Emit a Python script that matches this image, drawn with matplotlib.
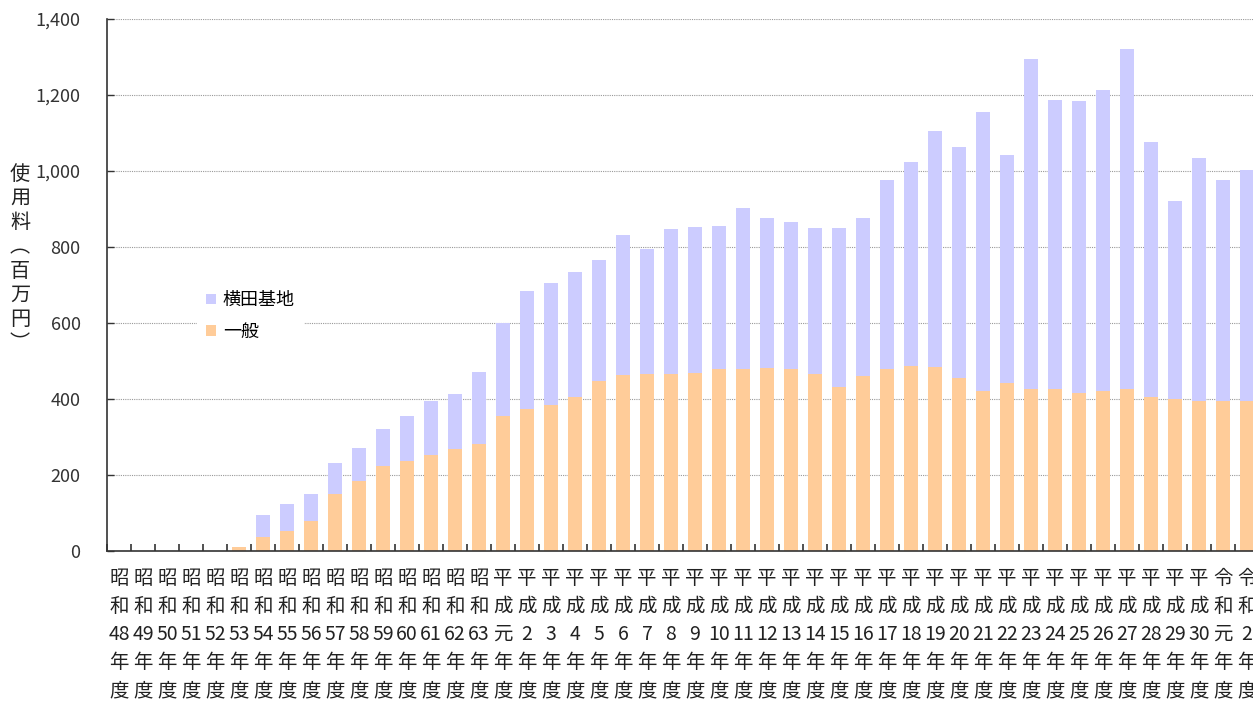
import matplotlib
matplotlib.use("Agg")
import matplotlib.pyplot as plt
import numpy as np

plt.rcParams["font.family"] = ["Noto Sans CJK JP", "DejaVu Sans"]

eras = ["昭和"] * 16 + ["平成"] * 30 + ["令和"] * 2
years = (
    [str(y) for y in range(48, 64)]
    + ["元"] + [str(y) for y in range(2, 31)]
    + ["元", "2"]
)

general = [0, 0, 0, 0, 0, 10, 36, 52, 80, 149, 184, 223, 238, 252, 268, 282,
           354, 375, 385, 404, 448, 462, 465, 465, 469, 478, 478, 481, 478, 466,
           432, 460, 479, 487, 485, 454, 420, 442, 426, 426, 417, 420, 426, 405,
           399, 396, 395, 395]
yokota = [0, 0, 0, 0, 0, 0, 58, 71, 71, 82, 87, 98, 116, 144, 146, 189,
          245, 310, 320, 329, 317, 370, 330, 382, 384, 378, 424, 395, 387, 384,
          418, 416, 498, 538, 621, 608, 735, 600, 868, 762, 766, 794, 894, 672,
          522, 637, 582, 608]

color_general = "#FFCC99"
color_yokota = "#CCCCFF"

W, H = 1253, 706
fig = plt.figure(figsize=(W / 100, H / 100), dpi=100)
ax = fig.add_axes([107 / W, (H - 551) / H, 1152 / W, 532 / H])

x = np.arange(len(general))
ax.bar(x, general, width=0.55, color=color_general, label="一般", zorder=2)
ax.bar(x, yokota, width=0.55, bottom=general, color=color_yokota,
       label="横田基地", zorder=2)

ax.set_xlim(-0.5, len(general) - 0.5)
ax.set_ylim(0, 1400)
ax.set_yticks(range(0, 1401, 200))
ax.set_yticklabels([f"{v:,}" for v in range(0, 1401, 200)], fontsize=13,
                   color="#333333")
ax.yaxis.grid(True, linestyle=(0, (1, 1)), color="#999999", linewidth=0.8,
              zorder=0)

labels = ["\n".join([e[0], e[1], y, "年", "度"]) for e, y in zip(eras, years)]
ax.set_xticks(x)
ax.set_xticklabels(labels, fontsize=14, linespacing=1.45, color="#222222",
                   va="top")
ax.tick_params(axis="x", which="major", length=0, pad=12)
ax.set_xticks(np.arange(len(general) + 1) - 0.5, minor=True)
ax.tick_params(axis="x", which="minor", direction="in", length=5,
               width=1.2, color="#333333")
ax.tick_params(axis="y", direction="in", length=5, width=1, color="#333333",
               pad=19)

for side in ["top", "right"]:
    ax.spines[side].set_visible(False)
for side in ["left", "bottom"]:
    ax.spines[side].set_color("#333333")
    ax.spines[side].set_linewidth(1.2)

fig.text(20 / W, 1 - 259 / H, "\n".join("使用料︵百万円︶"), fontsize=14.5,
         ha="center", va="center", linespacing=1.2, color="#222222")

handles, names = ax.get_legend_handles_labels()
ax.legend(handles[::-1], names[::-1], loc="upper left",
          bbox_to_anchor=(0.07, 0.522), fontsize=13, frameon=True,
          facecolor="white", edgecolor="none", framealpha=1,
          handlelength=0.55, handleheight=0.55, handletextpad=0.4,
          borderpad=0.5, labelspacing=0.75, fancybox=False)

fig.savefig("out.png", dpi=100)
